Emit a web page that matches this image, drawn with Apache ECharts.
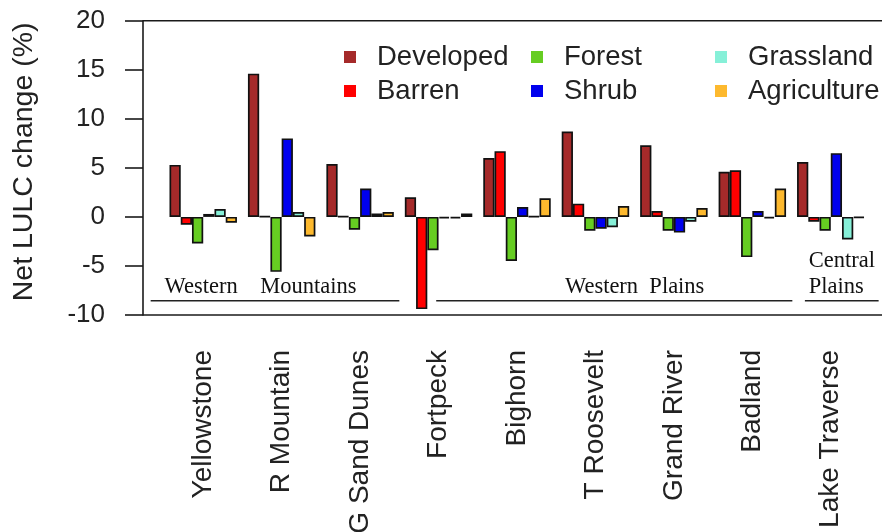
<!DOCTYPE html>
<html>
<head>
<meta charset="utf-8">
<script src="https://cdn.jsdelivr.net/npm/echarts@6/dist/echarts.min.js"></script>
<style>
  html, body { margin: 0; padding: 0; background: #ffffff; }
  #chart { width: 882px; height: 532px; }
</style>
</head>
<body>
<div id="chart"></div>
<script>
// Net land-use / land-cover change per site, in percent
const sites = ['Yellowstone', 'R Mountain', 'G Sand Dunes', 'Fortpeck', 'Bighorn',
               'T Roosevelt', 'Grand River', 'Badland', 'Lake Traverse'];
const classNames = ['Developed', 'Barren', 'Forest', 'Shrub', 'Grassland', 'Agriculture'];

const developed   = [5.3, 14.6, 5.4,  2.0,  6.0,  8.7,  7.3,  4.6,  5.6];
const barren      = [-0.8, 0.05, 0.05, -9.4, 6.7,  1.35, 0.6,  4.75, -0.5];
const forest      = [-2.7, -5.6, -1.3, -3.4, -4.5, -1.4, -1.4, -4.1, -1.4];
const shrub       = [0.3,  8.0,  2.9, -0.15, 1.0, -1.2, -1.6,  0.6,  6.5];
const grassland   = [0.8,  0.5,  0.35, -0.15, 0.05, -1.05, -0.5, -0.15, -2.3];
const agriculture = [-0.6, -2.0, 0.5,  0.35, 1.9,  1.1,  0.9,  2.9, -0.1];

const yTicks = [-10, -5, 0, 5, 10, 15, 20];
const regionNames = ['Western    Mountains', 'Western  Plains', 'Central\nPlains'];

const classValues = [developed, barren, forest, shrub, grassland, agriculture];
const classColors = ['#a52a2a', '#ff0000', '#66cd22', '#0000ee', '#86f0d8', '#fdb92e'];

const sans = '"Liberation Sans", Arial, sans-serif';
const serif = '"Liberation Serif", "Times New Roman", serif';

const chart = echarts.init(document.getElementById('chart'), null, { renderer: 'canvas' });

const series = classNames.map((name, i) => ({
  name: name,
  type: 'bar',
  data: classValues[i],
  barGap: '0%',
  barCategoryGap: '14%',
  itemStyle: { color: classColors[i], borderColor: '#111', borderWidth: 1.7 },
  emphasis: { disabled: true },
  animation: false
}));

function legendColumn(names, left) {
  return {
    data: names,
    orient: 'vertical',
    left: left,
    top: 38,
    itemWidth: 12,
    itemHeight: 12,
    itemGap: 6,
    icon: 'rect',
    itemStyle: { borderWidth: 0 },
    selectedMode: false,
    textStyle: { fontFamily: sans, fontSize: 27.5, color: '#222', lineHeight: 27, padding: [0, 0, 0, 16] }
  };
}

const option = {
  backgroundColor: '#ffffff',
  animation: false,
  grid: { left: 164, right: 12, top: 20.7, bottom: 217, containLabel: false, outerBoundsMode: 'none' },
  legend: [
    legendColumn(['Developed', 'Barren'], 339),
    legendColumn(['Forest', 'Shrub'], 526),
    legendColumn(['Grassland', 'Agriculture'], 710)
  ],
  xAxis: {
    type: 'category',
    data: sites,
    axisLine: { show: false },
    axisTick: { show: false },
    axisLabel: {
      rotate: 90,
      margin: 35,
      interval: 0,
      fontFamily: sans,
      fontSize: 28,
      color: '#222'
    },
    splitLine: { show: false }
  },
  yAxis: {
    type: 'value',
    min: yTicks[0],
    max: yTicks[yTicks.length - 1],
    interval: 5,
    offset: 21,
    name: 'Net LULC change (%)',
    nameLocation: 'middle',
    nameGap: 104,
    nameTextStyle: { fontFamily: sans, fontSize: 28.5, color: '#222', padding: [0, 0, 0, 12] },
    axisLine: { show: true, lineStyle: { color: '#1a1a1a', width: 1.6 } },
    axisTick: { show: true, length: 18, lineStyle: { color: '#1a1a1a', width: 1.6 } },
    axisLabel: { margin: 38, fontFamily: sans, fontSize: 26, color: '#222' },
    splitLine: { show: false }
  },
  series: series
};

chart.setOption(option);

// Frame lines and region annotations, placed through the axes
function drawOverlay() {
  const xAt = (f) => {
    const p0 = chart.convertToPixel({ xAxisIndex: 0 }, sites[0]);
    const p1 = chart.convertToPixel({ xAxisIndex: 0 }, sites[1]);
    return p0 + f * (p1 - p0);
  };
  const yAt = (v) => chart.convertToPixel({ yAxisIndex: 0 }, v);

  const frameLeft = xAt(0) - 0.5 * (xAt(1) - xAt(0)) - 21;
  const frameRight = 882;
  const yTop = yAt(yTicks[yTicks.length - 1]);
  const yBottom = yAt(yTicks[0]);

  const spans = [[-0.67, 2.50], [2.97, 7.51], [7.67, 8.61]];
  const textPos = [
    { x: 0.73, align: 'center', v: -7.15 },
    { x: 5.50, align: 'center', v: -7.15 },
    { x: 7.72, align: 'left', v: -5.85 }
  ];
  const lineV = -8.55;

  const elements = [
    { type: 'line', shape: { x1: frameLeft, y1: yTop, x2: frameRight, y2: yTop },
      style: { stroke: '#1a1a1a', lineWidth: 1.6 }, silent: true },
    { type: 'line', shape: { x1: frameLeft, y1: yBottom, x2: frameRight, y2: yBottom },
      style: { stroke: '#1a1a1a', lineWidth: 1.6 }, silent: true }
  ];

  regionNames.forEach((name, i) => {
    elements.push({
      type: 'line',
      shape: { x1: xAt(spans[i][0]), y1: yAt(lineV), x2: xAt(spans[i][1]), y2: yAt(lineV) },
      style: { stroke: '#222', lineWidth: 1.5 },
      silent: true
    });
    elements.push({
      type: 'text',
      x: xAt(textPos[i].x),
      y: yAt(textPos[i].v),
      style: {
        text: name,
        font: '22.5px ' + serif,
        fill: '#111',
        align: textPos[i].align,
        verticalAlign: 'middle',
        lineHeight: 26
      },
      silent: true
    });
  });

  chart.setOption({ graphic: { elements: elements } });
}
drawOverlay();
</script>
</body>
</html>
